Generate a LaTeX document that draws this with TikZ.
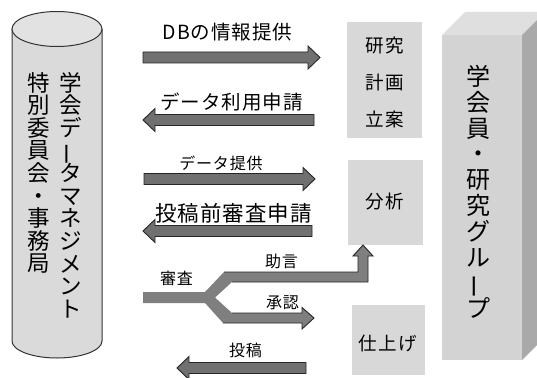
\documentclass[tikz,border=0pt]{standalone}
\usepackage{fontspec}
\newfontfamily\jp{Noto Sans CJK JP}
\newfontfamily\jpls[LetterSpace=5]{Noto Sans CJK JP}
\newfontfamily\jplb[LetterSpace=8]{Noto Sans CJK JP}
\newcommand\vbar{\smash{\rotatebox[origin=c]{90}{ー}}}
\definecolor{arrowgray}{HTML}{707070}
\definecolor{forkgray}{HTML}{7F7F7F}
\definecolor{boxgray}{HTML}{D8D8D8}
\definecolor{cylgray}{HTML}{DADADA}
\definecolor{cyltop}{HTML}{E2E2E2}
\definecolor{frontgray}{HTML}{D3D3D3}
\definecolor{topgray}{HTML}{DFDFDF}
\definecolor{sidegray}{HTML}{A9A9A9}
\tikzset{
  barrowfill/.style={fill=arrowgray, draw=black!85, line width=0.9pt, line join=miter},
  pics/barrow/.style={code={\filldraw[barrowfill] (0,-5.5) -- (#1-12,-5.5) -- (#1-12,-11.5) -- (#1,0) -- (#1-12,11.5) -- (#1-12,5.5) -- (0,5.5) -- cycle;}},
  lbl/.style={font=\jpls\fontsize{19.5}{22}\selectfont, inner sep=0pt},
  slbl/.style={font=\jpls\fontsize{16}{19}\selectfont, inner sep=0pt},
  lightbox/.style={fill=boxgray, draw=none, inner sep=0pt, anchor=north west},
  btxt/.style={font=\jplb\fontsize{18.5}{37}\selectfont, inner sep=0pt, align=center},
  vtxt/.style={font=\jp\fontsize{22.5}{22.6}\selectfont, inner sep=0pt, align=center, anchor=north},
  vtxtb/.style={font=\jp\fontsize{24}{25.8}\selectfont, inner sep=0pt, align=center, anchor=north},
  cyl/.style={draw=black!80, line width=1pt},
}
\begin{document}
\begin{tikzpicture}[x=1pt, y=-1pt]
\useasboundingbox (0,0) rectangle (537,377);
\fill[white] (0,0) rectangle (537,377);
% cylinder
\fill[cylgray] (12,29) rectangle (102,341);
\fill[cylgray] (57,341) ellipse [x radius=45, y radius=17];
\draw[cyl] (12,29) -- (12,341) arc[start angle=180, end angle=0, x radius=45, y radius=17] -- (102,29);
\filldraw[cyl, fill=cyltop] (57,29) ellipse [x radius=45, y radius=17.5];
\node[vtxt] (dm) at (71,72) {学\\会\\デ\\\vbar\\タ\\マ\\ネ\\ジ\\メ\\ン\\ト};
\node[vtxt] (jim) at (39,72) {特\\別\\委\\員\\会\\・\\事\\務\\局};
% 3D box
\fill[frontgray] (442,35) rectangle (522,360);
\fill[topgray] (442,35) -- (465,12) -- (545,12) -- (522,35) -- cycle;
\fill[sidegray] (522,35) -- (545,12) -- (545,337) -- (522,360) -- cycle;
\node[vtxtb] (grp) at (478.5,65) {学\\会\\員\\・\\研\\究\\グ\\ル\\\vbar\\プ};
% light boxes
\node[lightbox, minimum width=75pt, minimum height=116pt] (plan) at (347,22) {};
\node[btxt] (plant) at (384.5,82) {研究\\計画\\立案};
\node[lightbox, minimum width=75pt, minimum height=85pt] (ana) at (348,160) {};
\node[btxt] (anat) at (385,202) {分析};
\node[lightbox, minimum width=73pt, minimum height=70pt] (fin) at (352,305) {};
\node[btxt] (fint) at (387.5,343) {仕上げ};
% block arrows
\coordinate (a1) at (143,57.5);
\coordinate (a2) at (314,120);
\coordinate (a3) at (144,179);
\coordinate (a4) at (312,231);
\coordinate (a5) at (306,368);
\pic at (a1) {barrow=177};
\pic[rotate=180] at (a2) {barrow=171};
\pic at (a3) {barrow=171};
\pic[rotate=180] at (a4) {barrow=169};
\pic[rotate=180] at (a5) {barrow=129};
\node[lbl] (l1) at (227.5,32.5) {DBの情報提供};
\node[lbl] (l2) at (231.5,102.5) {データ利用申請};
\node[slbl] (l3) at (221,163) {データ提供};
\node[lbl, font=\jpls\fontsize{21.5}{24}\selectfont] (l4) at (233.5,213) {投稿前審査申請};
\node[slbl] (l5) at (245.5,350.5) {投稿};
% fork
\fill[forkgray] (143,292) -- (205,292) -- (224,272) -- (358,272) -- (358,256) -- (353,256) -- (363,245) -- (373,256) -- (368,256) -- (368,282) -- (232,282) -- (215,297.5) -- (232,313) -- (302,313) -- (302,307.5) -- (314,318) -- (302,329) -- (302,323) -- (223,323) -- (205,303) -- (143,303) -- cycle;
\draw[draw=black!85, line width=0.9pt, line join=miter] (224,272) -- (358,272) -- (358,256) -- (353,256) -- (363,245) -- (373,256) -- (368,256) -- (368,282) -- (232,282);
\draw[draw=black!85, line width=0.9pt, line join=miter] (232,313) -- (302,313) -- (302,307.5) -- (314,318) -- (302,329) -- (302,323) -- (223,323);
\node[slbl] (l6) at (176.5,278) {審査};
\node[slbl] (l7) at (281.5,261.5) {助言};
\node[slbl] (l8) at (282.5,303) {承認};
\end{tikzpicture}
\end{document}
